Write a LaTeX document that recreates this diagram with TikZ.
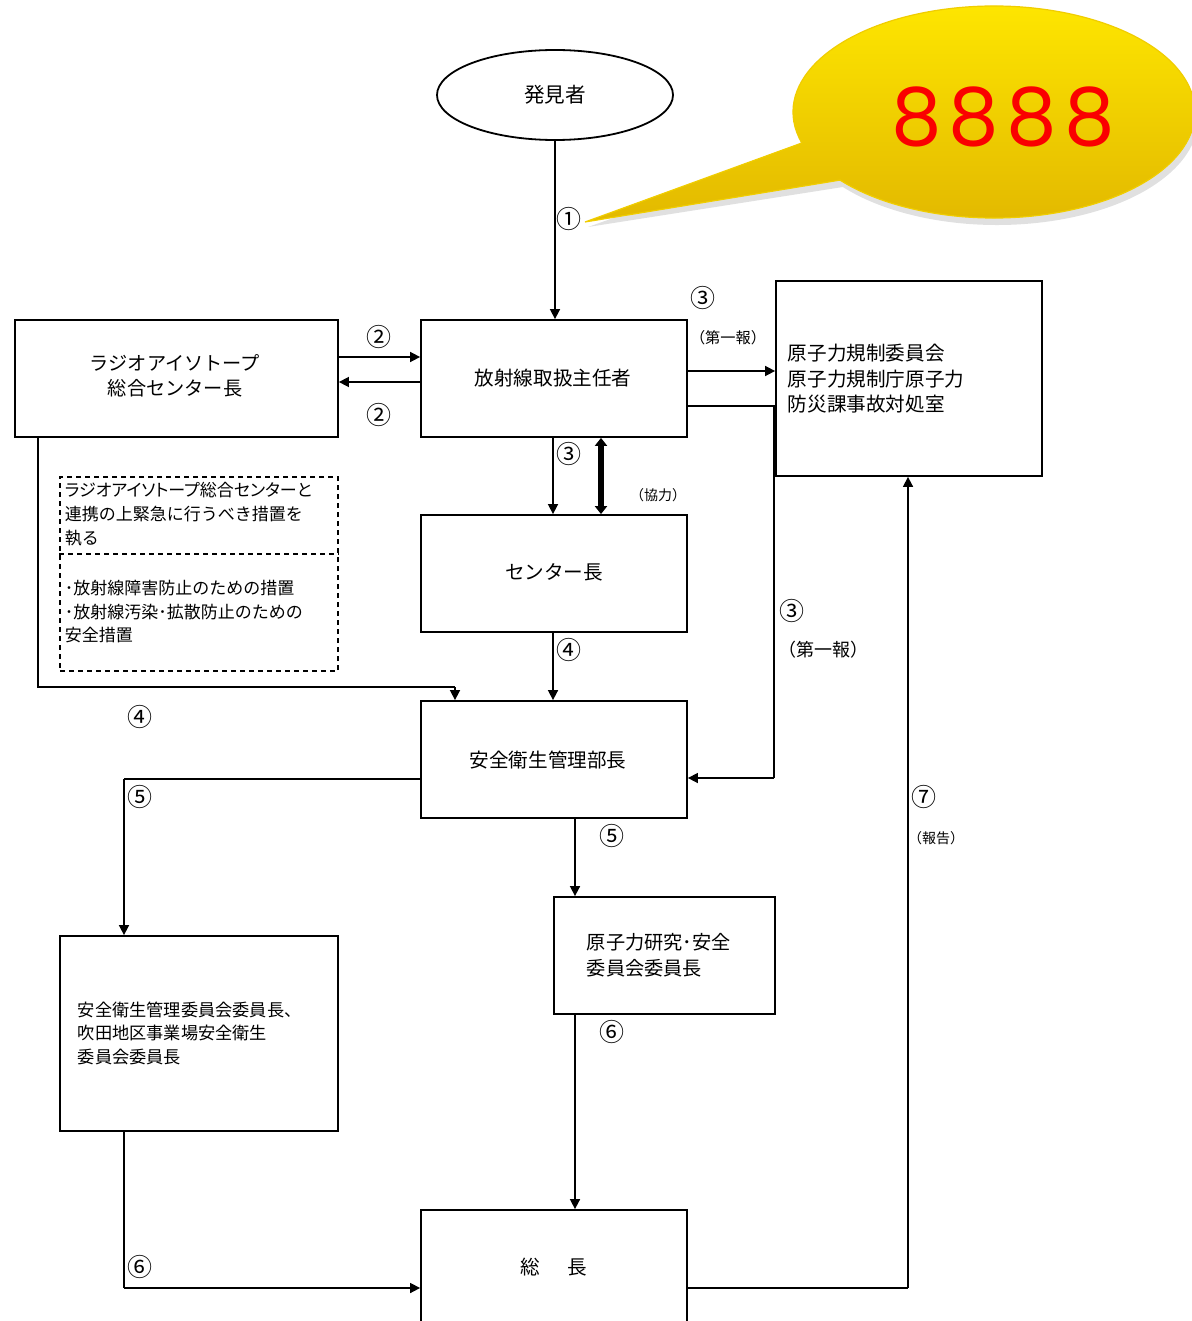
\documentclass[tikz,border=0pt]{standalone}
\usepackage{fontspec}
\setmainfont{Noto Sans CJK JP}
\newfontfamily\digitfont[LetterSpace=9]{Poppins}
\usetikzlibrary{arrows.meta,shapes.geometric}
\definecolor{calloutTop}{RGB}{255,232,0}
\definecolor{calloutBot}{RGB}{226,184,0}
\definecolor{calloutEdge}{RGB}{240,205,0}
\definecolor{eightred}{RGB}{250,0,0}
\begin{document}
\begin{tikzpicture}[x=0.5pt,y=-0.5pt,
  line width=0.8pt,
  box/.style={draw, line width=0.9pt, inner sep=0pt, minimum width=133pt, minimum height=58.5pt},
  txt/.style={inner sep=0pt, font=\fontsize{9.8}{12.5}\selectfont},
  num/.style={inner sep=0pt, font=\fontsize{12.5}{14}\selectfont},
  small/.style={inner sep=0pt, font=\fontsize{7}{9}\selectfont},
  arr/.style={-{Triangle[length=5pt,width=5pt]}},
  dbl/.style={{Triangle[length=4pt,width=6pt]}-{Triangle[length=4pt,width=6pt]}, line width=3pt},
]
\useasboundingbox (0,0) rectangle (1192,1321);
\clip (0,0) rectangle (1192,1321);

% callout
\fill[black, opacity=0.12] (843,187) -- (588,227) -- (804.8,150) arc[start angle=163, end angle=500, x radius=201, y radius=106] -- cycle;
\shade[top color=calloutTop, bottom color=calloutBot, draw=calloutEdge, line width=0.6pt]
  (840,180.1) -- (585,222) -- (801.8,143) arc[start angle=163, end angle=500, x radius=201, y radius=106] -- cycle;
\node[inner sep=0pt, text=eightred, font=\digitfont\fontsize{40}{44}\selectfont] (eights) at (1003,117) {8888};

% nodes
\node[draw, ellipse, line width=0.9pt, minimum width=118pt, minimum height=45pt, inner sep=0pt,
      font=\fontsize{10.3}{12}\selectfont] (finder) at (555,95) {発見者};
\node[box, minimum width=161.5pt] (ri) at (176.5,378.5) {};
\node[txt, align=center, font=\fontsize{9.6}{12.5}\selectfont] (ritext) at (175,376) {ラジオアイソトープ\\総合センター長};
\node[box] (mgr) at (554,378.5) {};
\node[txt] (mgrtext) at (553,378) {放射線取扱主任者};
\node[box, minimum height=97.5pt] (reg) at (909,378.5) {};
\node[txt, align=left, anchor=west, font=\fontsize{9.8}{12.75}\selectfont] (regtext) at (787,379) {原子力規制委員会\\原子力規制庁原子力\\防災課事故対処室};
\node[box] (centre) at (554,573.5) {};
\node[txt] (centretext) at (554,572) {センター長};
\node[box] (bucho) at (554,759.5) {};
\node[txt] (buchotext) at (548,760) {安全衛生管理部長};
\node[box, minimum width=110.5pt] (kenkyu) at (664.5,955.5) {};
\node[txt, align=left, anchor=west, font=\fontsize{9.6}{13}\selectfont] (kenkyutext) at (586,955) {原子力研究･安全\\委員会委員長};
\node[box, minimum width=139pt, minimum height=97.5pt] (iinkai) at (199,1033.5) {};
\node[txt, align=left, anchor=west, font=\fontsize{8.6}{11.75}\selectfont] (iinkaitext) at (77,1033) {安全衛生管理委員会委員長、\\吹田地区事業場安全衛生\\委員会委員長};
\node[box, minimum height=75pt] (socho) at (554,1285) {};
\node[txt] (sochotext) at (554,1267) {総\hspace{14pt}長};

% dashed box
\node[draw, line width=0.8pt, inner sep=0pt, minimum width=139pt, minimum height=97pt, dash pattern=on 2.5pt off 2pt] (dbox) at (199,574) {};
\draw[line width=0.8pt, dash pattern=on 2.5pt off 2pt] (dbox.west |- 0,554) -- (dbox.east |- 0,554);
\node[txt, align=left, anchor=west, font=\fontsize{8.5}{12}\selectfont] (dtext1) at (64,514) {{\addfontfeature{RawFeature=+palt}ラジオアイソトープ総合センターと}\\連携の上緊急に行うべき措置を\\執る};
\node[txt, align=left, anchor=west, font=\fontsize{8.5}{11.75}\selectfont] (dtext2) at (64,612) {･放射線障害防止のための措置\\･放射線汚染･拡散防止のための\\安全措置};

% connectors
\draw[arr] (finder.south) -- (mgr.north -| finder.south);
\draw[arr] (ri.east |- 0,357) -- (mgr.west |- 0,357);
\draw[arr] (mgr.west |- 0,382) -- (ri.east |- 0,382);
\draw[arr] (mgr.east |- 0,371) -- (reg.west |- 0,371);
\draw (mgr.east |- 0,406) -- (774,406) -- (774,778);
\draw[arr] (774,778) -- (bucho.east |- 0,778);
\draw[arr] (mgr.south -| 553,0) -- (centre.north -| 553,0);
\draw[dbl] (mgr.south -| 601,0) -- (centre.north -| 601,0);
\draw[arr] (centre.south -| 553,0) -- (bucho.north -| 553,0);
\draw (ri.south -| 38,0) -- (38,687) -- (455,687);
\draw[arr] (455,687) -- (bucho.north -| 455,0);
\draw (bucho.west |- 0,779) -- (124,779);
\draw[arr] (124,779) -- (iinkai.north -| 124,0);
\draw[arr] (bucho.south -| 575,0) -- (kenkyu.north -| 575,0);
\draw[arr] (kenkyu.south -| 575,0) -- (socho.north -| 575,0);
\draw (iinkai.south -| 124,0) -- (124,1288);
\draw[arr] (124,1288) -- (socho.west |- 0,1288);
\draw (socho.east |- 0,1288) -- (908,1288);
\draw[arr] (908,1288) -- (reg.south -| 908,0);

% labels
\node[num] (l1) at (569,219) {①};
\node[num] (l2a) at (379,337) {②};
\node[num] (l2b) at (379,415) {②};
\node[num] (l3a) at (703,298) {③};
\node[small, font=\fontsize{7.6}{9}\selectfont] (l3at) at (728,338) {（第一報）};
\node[num] (l3b) at (569,454) {③};
\node[small] (kyoryoku) at (658,495) {（協力）};
\node[num] (l4a) at (569,650) {④};
\node[num] (l3c) at (792,611) {③};
\node[small, font=\fontsize{9}{11}\selectfont] (l3ct) at (823,650) {（第一報）};
\node[num] (l4b) at (140,717) {④};
\node[num] (l5a) at (140,797) {⑤};
\node[num] (l5b) at (612,836) {⑤};
\node[num] (l6a) at (612,1032) {⑥};
\node[num] (l6b) at (140,1267) {⑥};
\node[num] (l7) at (924,797) {⑦};
\node[small] (hokoku) at (936,838) {（報告）};
\end{tikzpicture}
\end{document}
